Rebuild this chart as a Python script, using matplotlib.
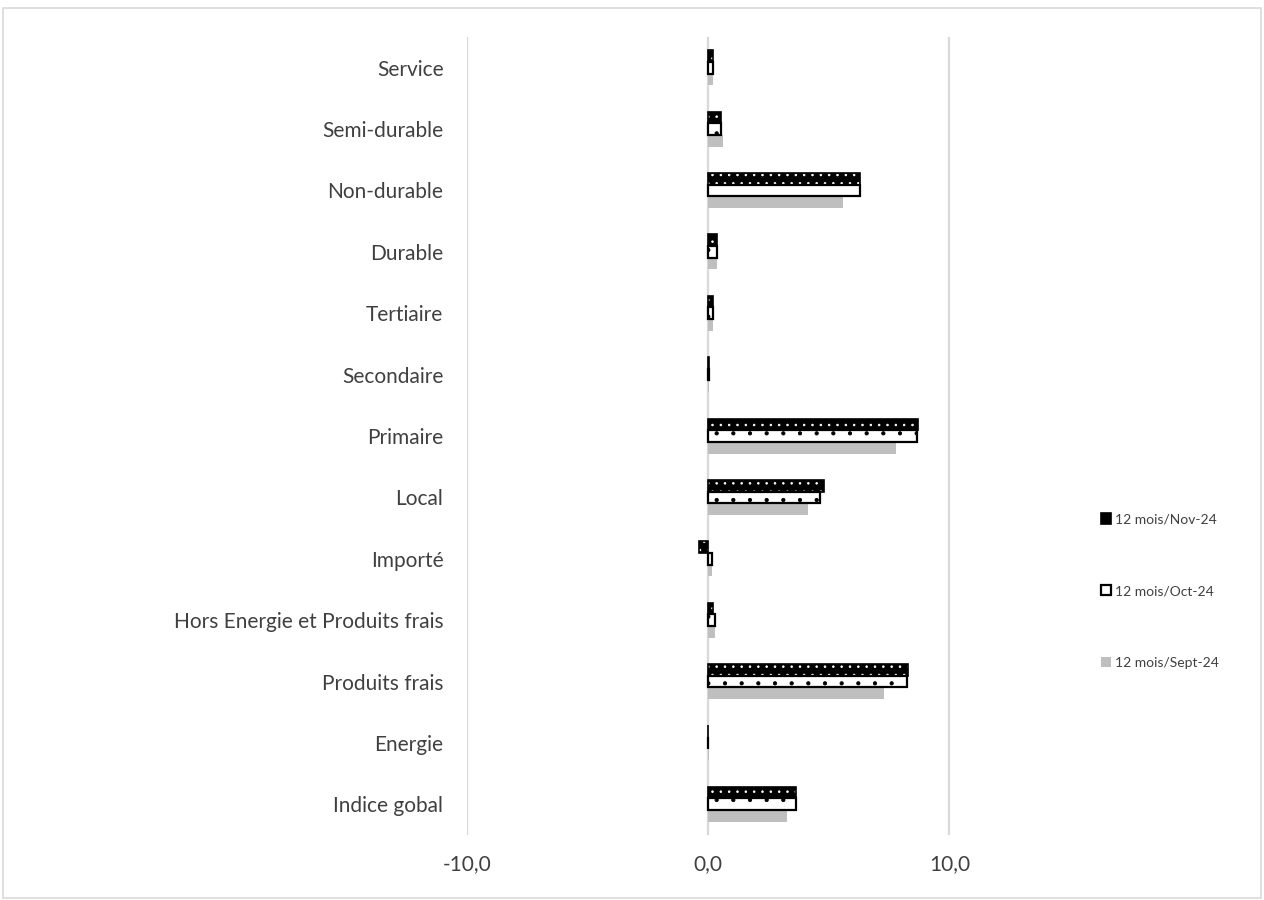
import matplotlib.pyplot as plt
import numpy as np
from matplotlib.patches import Rectangle, Patch

plt.rcParams["font.family"] = ["Lato", "DejaVu Sans"]
plt.rcParams["hatch.linewidth"] = 0.6

categories = [
    "Service", "Semi-durable", "Non-durable", "Durable", "Tertiaire",
    "Secondaire", "Primaire", "Local", "Importé",
    "Hors Energie et Produits frais", "Produits frais", "Energie",
    "Indice gobal",
]
nov_24 = [0.2, 0.55, 6.3, 0.35, 0.2, 0.05, 8.7, 4.8, -0.4, 0.2, 8.3, 0.0, 3.65]
oct_24 = [0.2, 0.55, 6.3, 0.35, 0.2, 0.05, 8.65, 4.65, 0.15, 0.3, 8.25, 0.0, 3.65]
sept_24 = [0.2, 0.6, 5.6, 0.35, 0.2, 0.05, 7.8, 4.15, 0.15, 0.3, 7.3, 0.05, 3.25]
series_labels = ["12 mois/Nov-24", "12 mois/Oct-24", "12 mois/Sept-24"]
x_ticks = [-10, 0, 10]

fig = plt.figure(figsize=(12.64, 9), dpi=100)
ax = fig.add_axes([0.3695, 0.0722, 0.477, 0.8867])

y = np.arange(len(categories))[::-1]
h = 0.19

# Nov: black with white dots
ax.barh(y + h, nov_24, height=h, color="black", edgecolor="white",
        hatch="..", linewidth=0, zorder=3)
ax.barh(y + h, nov_24, height=h, fill=False, edgecolor="black",
        linewidth=1.2, zorder=4)
# Oct: white with black dots
ax.barh(y, oct_24, height=h, color="white", edgecolor="black",
        hatch=".", linewidth=0, zorder=3)
ax.barh(y, oct_24, height=h, fill=False, edgecolor="black",
        linewidth=1.6, zorder=4)
# Sept: grey
ax.barh(y - h, sept_24, height=h, color="#bfbfbf", linewidth=0, zorder=3)

ax.set_xlim(-10, 15)
ax.set_ylim(-0.5, len(categories) - 0.5)
ax.set_xticks(x_ticks)
ax.set_xticklabels([f"{v:.1f}".replace(".", ",") for v in x_ticks])
ax.set_yticks(y)
ax.set_yticklabels(categories)
ax.tick_params(axis="both", length=0, labelsize=15, colors="#404040")
ax.tick_params(axis="x", pad=14)
ax.tick_params(axis="y", pad=17)
ax.grid(axis="x", color="#d9d9d9", linewidth=1.6, zorder=0)
for s in ax.spines.values():
    s.set_visible(False)

handles = [
    Patch(facecolor="black", edgecolor="black", linewidth=1.2),
    Patch(facecolor="white", edgecolor="black", linewidth=1.6),
    Patch(facecolor="#bfbfbf", edgecolor="none"),
]
fig.legend(handles, series_labels, loc="center left",
           bbox_to_anchor=(1088 / 1264, 1 - 591 / 900), frameon=False,
           fontsize=10, labelspacing=4.3, handlelength=0.75, handleheight=0.75,
           handletextpad=0.3, labelcolor="#404040")

fig.add_artist(Rectangle((3 / 1264, 2 / 900), 1258 / 1264, 890 / 900,
                         transform=fig.transFigure, fill=False,
                         edgecolor="#d9d9d9", linewidth=1.2))

fig.savefig("out.png")
